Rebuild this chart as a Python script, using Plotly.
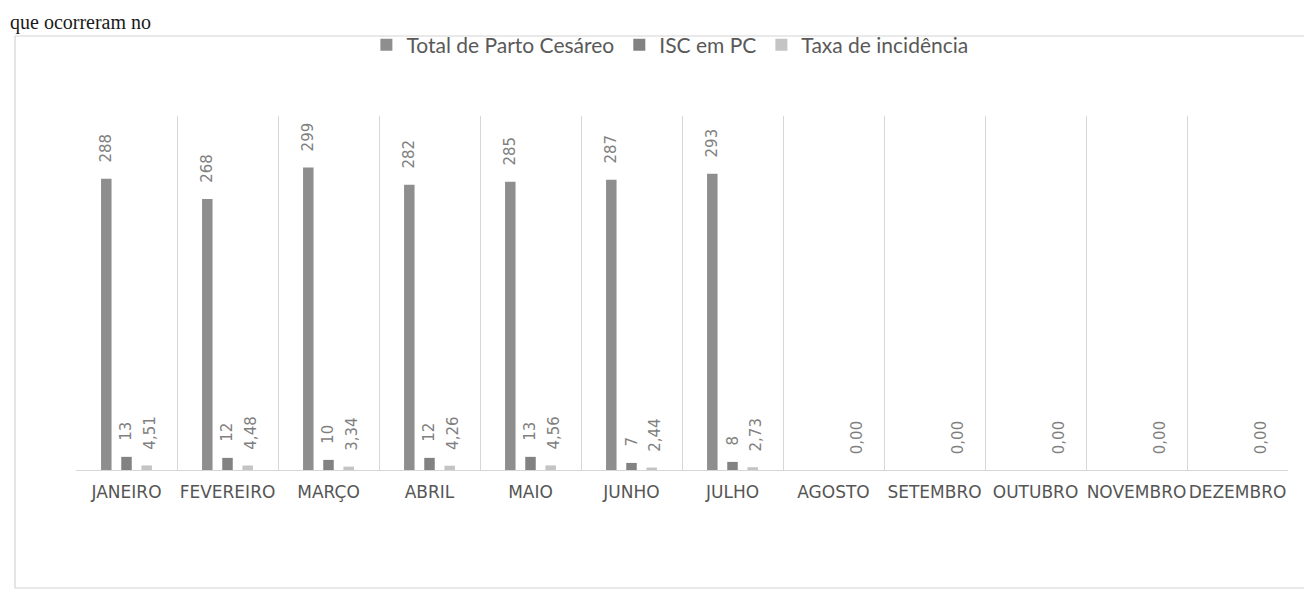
import plotly.graph_objects as go

# ---- data ----
months = ["JANEIRO", "FEVEREIRO", "MARÇO", "ABRIL", "MAIO", "JUNHO", "JULHO",
          "AGOSTO", "SETEMBRO", "OUTUBRO", "NOVEMBRO", "DEZEMBRO"]
total_pc = [288, 268, 299, 282, 285, 287, 293, None, None, None, None, None]
isc_pc = [13, 12, 10, 12, 13, 7, 8, None, None, None, None, None]
taxa = [4.51, 4.48, 3.34, 4.26, 4.56, 2.44, 2.73, 0.00, 0.00, 0.00, 0.00, 0.00]

series_names = ["Total de Parto Cesáreo", "ISC em PC", "Taxa de incidência"]
series_values = [total_pc, isc_pc, taxa]
series_decimals = [0, 0, 2]

# ---- style / layout constants ----
W, H = 1312, 592
PL, PR, PT, PB = 68, 1280, 108, 462          # plot area in px
colors = ["#8e8e8e", "#828282", "#c4c4c4"]
BARGAP = 0.4
BARGROUPGAP = 0.48
grid_col = "#d6d6d6"
label_col = "#7f7f7f"

plot_w = PR - PL
plot_h = PB - PT
slot = plot_w / len(months)
sub = slot * (1 - BARGAP) / len(series_values)


def px_x(p):
    return (p - PL) / plot_w


def px_y(p):
    return (PB - p) / plot_h


fig = go.Figure()
for name, vals, col in zip(series_names, series_values, colors):
    fig.add_trace(go.Bar(x=months, y=vals, name=name, marker_color=col,
                         marker_line_width=0))

annotations = []
for k, (vals, dec) in enumerate(zip(series_values, series_decimals)):
    for m, v in zip(months, vals):
        if v is None:
            continue
        txt = f"{v:.{dec}f}".replace(".", ",")
        annotations.append(dict(
            x=m, y=v, xref="x", yref="y", text=txt, showarrow=False,
            textangle=-90, xanchor="center", yanchor="bottom",
            xshift=(k - 1) * sub + (3 if k == 2 else 0), yshift=14,
            font=dict(family="DejaVu Sans", size=15, color=label_col)))

# sentence from the document just above the chart
annotations.append(dict(
    x=px_x(0), y=px_y(1), xref="paper", yref="paper",
    text="que ocorreram no", showarrow=False, xanchor="left", yanchor="top",
    font=dict(family="Liberation Serif", size=20, color="#1a1a1a")))

shapes = [dict(type="rect", xref="paper", yref="paper",
               x0=px_x(7), x1=px_x(1307), y0=px_y(580), y1=px_y(28),
               line=dict(color="#d4d4d4", width=1.2), fillcolor="rgba(0,0,0,0)",
               layer="below")]

fig.update_layout(
    width=W, height=H,
    margin=dict(l=PL, r=W - PR, t=PT, b=H - PB, pad=0),
    paper_bgcolor="white", plot_bgcolor="white",
    barmode="group", bargap=BARGAP, bargroupgap=BARGROUPGAP,
    showlegend=True,
    legend=dict(orientation="h", x=0.49, xanchor="center", y=px_y(37),
                yanchor="middle", font=dict(family="Lato", size=21, color="#595959"),
                itemwidth=30, traceorder="normal", bgcolor="rgba(0,0,0,0)"),
    annotations=annotations,
    shapes=shapes,
    xaxis=dict(type="category", tickson="boundaries", showgrid=True,
               gridcolor=grid_col, gridwidth=1, showline=True, linecolor=grid_col,
               ticks="", ticklabelstandoff=7,
               tickfont=dict(family="DejaVu Sans", size=17, color="#555555"),
               tickangle=0, range=[-0.5, len(months) - 0.5], fixedrange=True),
    yaxis=dict(range=[0, 350], showgrid=False, zeroline=False,
               showticklabels=False, showline=False, ticks=""),
)

fig.write_html("out.html")
